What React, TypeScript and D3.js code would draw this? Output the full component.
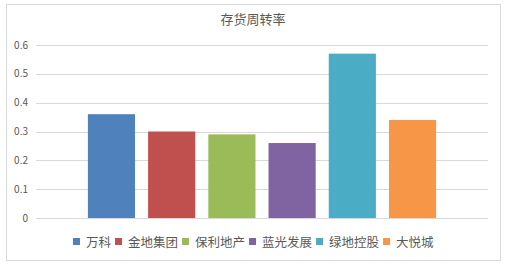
import { useEffect, useRef } from 'react';
import * as d3 from 'd3';

// 公司名称与存货周转率
const companies = ['万科', '金地集团', '保利地产', '蓝光发展', '绿地控股', '大悦城'];
const turnover = [0.36, 0.3, 0.29, 0.26, 0.57, 0.34];
const colors = ['#4F81BD', '#C0504D', '#9BBB59', '#8064A2', '#4BACC6', '#F79646'];
const yTicks = [0, 0.1, 0.2, 0.3, 0.4, 0.5, 0.6];
const chartTitle = '存货周转率';

const W = 506;
const H = 267;
const FONT = '"Noto Sans CJK SC", "Microsoft YaHei", sans-serif';

export default function App() {
  const ref = useRef<SVGSVGElement | null>(null);

  useEffect(() => {
    const svg = d3.select(ref.current);
    svg.selectAll('*').remove();

    const margin = { top: 45, right: 18, bottom: 49, left: 36 };
    const plotW = W - margin.left - margin.right;

    // 外框
    svg.append('rect')
      .attr('x', 6.5).attr('y', 4.5)
      .attr('width', 494).attr('height', 256)
      .attr('fill', '#fff').attr('stroke', '#d9d9d9');

    svg.append('text')
      .attr('x', 253).attr('y', 24)
      .attr('text-anchor', 'middle')
      .style('font-family', FONT).style('font-size', '13px')
      .attr('fill', '#595959')
      .text(chartTitle);

    const y = d3.scaleLinear().domain([0, 0.6]).range([218, 45]);
    const x0 = d3.scaleBand().domain(['g']).range([margin.left, margin.left + plotW]).paddingOuter(0.149);
    const x = d3.scaleBand().domain(companies).range([x0('g')!, x0('g')! + x0.bandwidth()]).paddingInner(0.217).paddingOuter(0);

    const g = svg.append('g');
    g.selectAll('line.grid')
      .data(yTicks)
      .enter().append('line')
      .attr('class', 'grid')
      .attr('x1', margin.left).attr('x2', margin.left + plotW)
      .attr('y1', d => Math.round(y(d)) + 0.5).attr('y2', d => Math.round(y(d)) + 0.5)
      .attr('stroke', '#d9d9d9');

    g.selectAll('text.tick')
      .data(yTicks)
      .enter().append('text')
      .attr('class', 'tick')
      .attr('x', 28).attr('y', d => y(d) + 3.5)
      .attr('text-anchor', 'end')
      .style('font-family', FONT).style('font-size', '10px')
      .attr('fill', '#595959')
      .text(d => d3.format('.1~f')(d));

    g.selectAll('rect.bar')
      .data(turnover)
      .enter().append('rect')
      .attr('class', 'bar')
      .attr('x', (_, i) => x(companies[i])!)
      .attr('y', d => y(d))
      .attr('width', x.bandwidth())
      .attr('height', d => y(0) - y(d))
      .attr('fill', (_, i) => colors[i]);

    // 图例
    const legend = svg.append('g');
    let lx = 73;
    companies.forEach((c, i) => {
      legend.append('rect')
        .attr('x', lx).attr('y', 238)
        .attr('width', 7).attr('height', 7)
        .attr('fill', colors[i]);
      const t = legend.append('text')
        .attr('x', lx + 13).attr('y', 246.5)
        .style('font-family', FONT).style('font-size', '12.5px')
        .attr('fill', '#595959')
        .text(c);
      const tw = (t.node() as SVGTextElement).getComputedTextLength();
      lx += 13 + tw + 4;
    });
  }, []);

  return (
    <svg ref={ref} width={W} height={H}
      style={{ position: 'absolute', left: 0, top: 0, background: '#fff' }} />
  );
}
